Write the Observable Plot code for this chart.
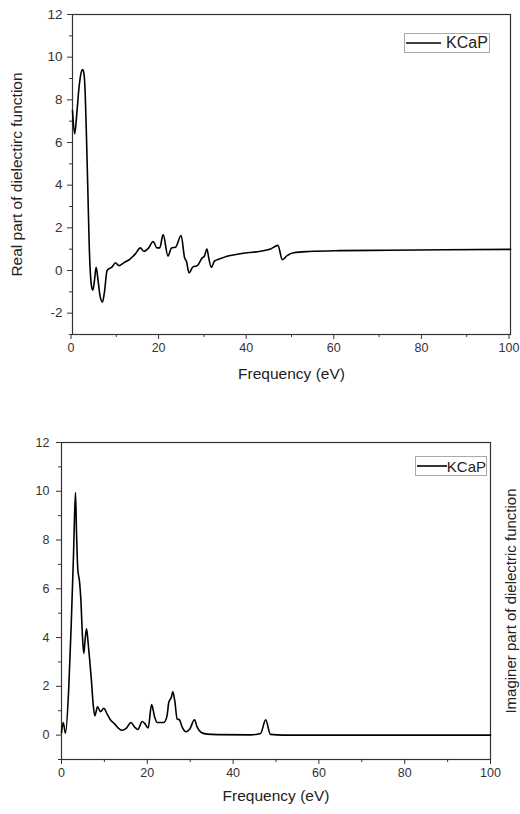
<!DOCTYPE html>
<html>
<head>
<meta charset="utf-8">
<script src="https://cdn.jsdelivr.net/npm/d3@7"></script>
<script src="https://cdn.jsdelivr.net/npm/@observablehq/plot@0.6"></script>
<style>
  body { margin: 0; background: #fff; }
  #wrap { position: relative; width: 520px; height: 814px; font-family: "Liberation Sans", Arial, sans-serif; }
  .panel { position: absolute; left: 0; }
  .legend { position: absolute; box-sizing: border-box; border: 1px solid #aaa; background: #fff;
            display: flex; align-items: center; color: #222; }
  .legend svg { display: block; }
</style>
</head>
<body>
<div id="wrap"></div>
<script>
// Photon energy (eV) and real part of the dielectric function
const realEnergy = [0, 0.5, 1.0, 1.5, 2.0, 2.3, 2.6, 2.9, 3.2, 3.5, 3.8, 4.1, 4.4, 4.65, 5.0, 5.4, 5.8, 6.3, 6.85, 7.3, 7.9,
  9.05, 9.8, 10.6, 11.7, 13.2, 14.4, 15.5, 16.3, 17.4, 18.4, 19.3, 19.9, 20.7, 21.8, 22.6, 23.5, 24.8, 25.6, 26.0, 26.6,
  27.5, 28.5, 29.6, 30.1, 30.7, 31.1, 31.7, 32.4, 33.8, 35.3, 37.6, 39.9, 42.9, 45.2, 46.9, 47.9, 49.0, 50.5, 54, 61, 72, 85, 100];
const realValue = [7.5, 6.4, 7.4, 8.6, 9.3, 9.42, 9.25, 8.3, 6.2, 3.8, 1.3, -0.2, -0.8, -0.92, -0.5, 0.15, -0.4, -1.2, -1.48, -1.0, 0.0,
  0.17, 0.36, 0.23, 0.36, 0.55, 0.79, 1.06, 0.9, 1.06, 1.36, 1.06, 1.06, 1.68, 0.67, 1.06, 1.09, 1.64, 0.59, 0.44, -0.11,
  0.17, 0.23, 0.59, 0.67, 1.01, 0.59, 0.15, 0.44, 0.56, 0.67, 0.76, 0.83, 0.9, 1.01, 1.18, 0.51, 0.7, 0.83, 0.89, 0.93, 0.95, 0.97, 0.99];

// Photon energy (eV) and imaginary part of the dielectric function
const imagEnergy = [0, 0.4, 0.93, 1.7, 2.26, 2.8, 3.26, 3.5, 3.8, 4.2, 4.5, 4.9, 5.2, 5.5, 5.83, 6.1, 6.37, 6.92, 7.38, 7.77, 8.39,
  9.09, 9.86, 10.65, 11.4, 12.2, 13.36, 14.1, 15.15, 16.2, 17.0, 17.8, 18.8, 19.4, 20.2, 21.0, 21.7, 22.3, 23.85, 24.6, 25.0,
  25.6, 25.95, 26.4, 26.96, 27.5, 28.1, 29.1, 29.9, 31.0, 31.6, 32.6, 34.0, 36.3, 44.1, 46.4, 47.6, 48.7, 51.7, 60, 80, 100];
const imagValue = [0.1, 0.52, 0.08, 1.96, 4.5, 7.4, 9.95, 8.3, 6.8, 6.3, 5.6, 4.0, 3.35, 3.9, 4.36, 4.0, 3.47, 2.37, 1.27, 0.79, 1.16,
  0.96, 1.1, 0.86, 0.63, 0.49, 0.27, 0.2, 0.29, 0.52, 0.34, 0.23, 0.56, 0.48, 0.29, 1.25, 0.75, 0.52, 0.52, 0.79, 1.34,
  1.55, 1.78, 1.41, 0.66, 0.63, 0.34, 0.14, 0.25, 0.63, 0.34, 0.11, 0.04, 0.02, 0.01, 0.07, 0.63, 0.03, 0.0, 0.0, 0.0, 0.0];

// Axis ticks
const xMajor = [0, 20, 40, 60, 80, 100];
const xMinor = [10, 30, 50, 70, 90];
const realYMajor = [-2, 0, 2, 4, 6, 8, 10, 12];
const realYMinor = [-3, -1, 1, 3, 5, 7, 9, 11];
const imagYMajor = [0, 2, 4, 6, 8, 10, 12];
const imagYMinor = [-1, 1, 3, 5, 7, 9, 11];

const seriesName = "KCaP";
const xTitle = "Frequency (eV)";
const realTitle = "Real part of dielectirc function";
const imagTitle = "Imaginer part of dielectric function";

const wrap = document.getElementById("wrap");
const plain = d => String(d);

function panel({energy, value, yDomain, yMajor, yMinor, height, margin, yTitle, yTitleSide, xTitleDy, yTitleDx, tickPad, tickFont, xTickDx}) {
  const data = energy.map((e, i) => ({e, v: value[i]}));
  const yTitleMark = Plot.text([yTitle], {
    frameAnchor: yTitleSide, dx: yTitleDx, rotate: -90,
    textAnchor: "middle", lineAnchor: "middle",
    fontSize: yTitleSide === "left" ? 15.5 : 15, fill: "#222"
  });
  return Plot.plot({
    width: 520,
    height,
    marginTop: margin[0], marginRight: margin[1], marginBottom: margin[2], marginLeft: margin[3],
    style: {fontFamily: "'Liberation Sans', Arial, sans-serif", fontSize: tickFont + "px", color: "#333", background: "#fff", overflow: "visible"},
    x: {domain: [0, 100]},
    y: {domain: yDomain},
    marks: [
      Plot.frame({stroke: "#333", strokeWidth: 1.2}),
      Plot.axisX({ticks: xMajor, tickSize: 5, tickPadding: 4, label: null, fontSize: 12.5, tickFormat: plain, dx: xTickDx}),
      Plot.axisX({ticks: xMinor, tickSize: 3, text: null, label: null}),
      Plot.axisY({ticks: yMajor, tickSize: 5, tickPadding: tickPad, label: null, fontSize: tickFont, tickFormat: plain}),
      Plot.axisY({ticks: yMinor, tickSize: 3, text: null, label: null}),
      Plot.line(data, {x: "e", y: "v", stroke: "#000", strokeWidth: 1.6, curve: "monotone-x"}),
      Plot.text([xTitle], {frameAnchor: "bottom", dy: xTitleDy, textAnchor: "middle", fontSize: 15.5, fill: "#222"}),
      yTitleMark
    ]
  });
}

function legend(left, top, width, height, lineLen, fontSize) {
  const div = document.createElement("div");
  div.className = "legend";
  Object.assign(div.style, {left: left + "px", top: top + "px", width: width + "px", height: height + "px", fontSize: fontSize + "px"});
  const ns = "http://www.w3.org/2000/svg";
  const svg = document.createElementNS(ns, "svg");
  svg.setAttribute("width", lineLen + 6);
  svg.setAttribute("height", 4);
  const ln = document.createElementNS(ns, "line");
  ln.setAttribute("x1", 1); ln.setAttribute("x2", lineLen + 1);
  ln.setAttribute("y1", 2); ln.setAttribute("y2", 2);
  ln.setAttribute("stroke", "#000"); ln.setAttribute("stroke-width", 1.6);
  svg.appendChild(ln);
  div.appendChild(svg);
  const span = document.createElement("span");
  span.textContent = seriesName;
  div.appendChild(span);
  return div;
}

const top1 = panel({
  energy: realEnergy, value: realValue, yDomain: [-3, 12], yMajor: realYMajor, yMinor: realYMinor,
  height: 400, margin: [14, 10, 66, 72], yTitle: realTitle, yTitleSide: "left",
  xTitleDy: 44, yTitleDx: -55, tickPad: 5, tickFont: 13.5, xTickDx: -1.5
});
top1.classList.add("panel");
top1.style.top = "0px";
wrap.appendChild(top1);

const bottom = panel({
  energy: imagEnergy, value: imagValue, yDomain: [-1, 12], yMajor: imagYMajor, yMinor: imagYMinor,
  height: 414, margin: [42, 30, 55, 61], yTitle: imagTitle, yTitleSide: "right",
  xTitleDy: 41, yTitleDx: 21, tickPad: 7, tickFont: 12.5, xTickDx: 0
});
bottom.classList.add("panel");
bottom.style.top = "400px";
wrap.appendChild(bottom);

wrap.appendChild(legend(404, 33, 86, 20, 35, 16));
wrap.appendChild(legend(415, 456, 72, 20, 32, 15));
</script>
</body>
</html>
